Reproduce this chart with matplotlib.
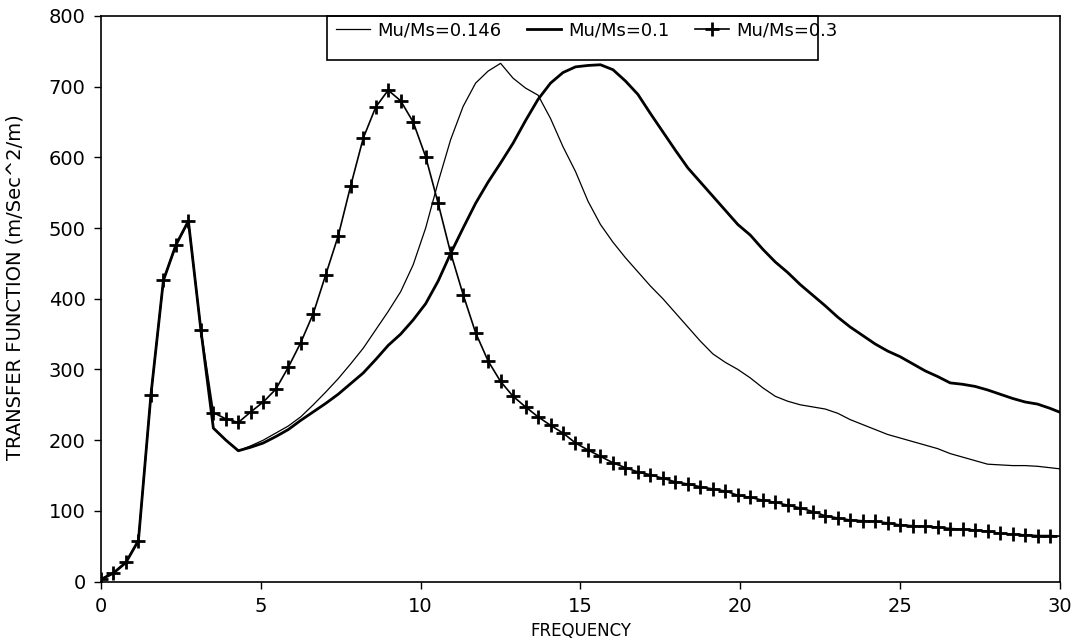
import matplotlib
matplotlib.use("Agg")
import matplotlib.pyplot as plt
from matplotlib.patches import Rectangle

# frequency grid (step 100/256 Hz)
freq = [k * 0.390625 for k in range(78)]

# Mu/Ms = 0.146 (thin line)
tf_0146 = [3, 12, 27, 58, 264, 426, 476, 510, 356, 217,
           200, 185, 192, 200, 210, 220, 233, 250, 268, 287,
           308, 330, 356, 382, 410, 448, 500, 565, 625, 672,
           705, 722, 733, 712, 698, 688, 655, 615, 580, 538,
           505, 480, 458, 438, 418, 400, 380, 360, 340, 322,
           310, 300, 288, 274, 262, 255, 250, 247, 244, 238,
           229, 222, 215, 208, 203, 198, 193, 188, 181, 176,
           171, 166, 165, 164, 164, 163, 161, 159]

# Mu/Ms = 0.1 (thick line)
tf_01 = [3, 12, 27, 58, 264, 426, 476, 510, 356, 217,
         200, 185, 190, 196, 205, 215, 228, 240, 252, 265,
         280, 295, 314, 334, 350, 370, 393, 425, 464, 500,
         535, 565, 592, 620, 652, 682, 705, 720, 728, 730,
         731, 724, 708, 689, 662, 636, 610, 585, 565, 545,
         525, 505, 490, 470, 452, 437, 420, 405, 390, 374,
         360, 348, 336, 326, 318, 308, 298, 290, 281, 279,
         276, 271, 265, 259, 254, 251, 245, 238]

# Mu/Ms = 0.3 (line with + markers)
tf_03 = [3, 12, 27, 58, 264, 426, 476, 510, 356, 239,
         230, 225, 240, 254, 272, 303, 338, 379, 434, 489,
         560, 627, 671, 695, 680, 650, 601, 535, 465, 406,
         352, 312, 283, 262, 247, 233, 221, 210, 196, 186,
         177, 168, 161, 155, 151, 146, 141, 138, 134, 131,
         128, 122, 119, 115, 112, 108, 104, 99, 93, 90,
         87, 86, 85, 83, 80, 79, 78, 77, 75, 74,
         73, 71, 68, 67, 66, 65, 65, 64]

xticks = [0, 5, 10, 15, 20, 25, 30]
yticks = [0, 100, 200, 300, 400, 500, 600, 700, 800]

fig = plt.figure(figsize=(10.73, 6.44), dpi=100)
ax = fig.add_axes([0.0941, 0.097, 0.8938, 0.8782])

l1, = ax.plot(freq, tf_0146, color='black', lw=0.9)
l2, = ax.plot(freq, tf_01, color='black', lw=2.0)
l3, = ax.plot(freq, tf_03, color='black', lw=1.2, marker='+',
              markersize=10, markeredgewidth=2.0, markevery=range(77))

ax.set_xlim(0, 30)
ax.set_ylim(0, 800)
ax.set_xticks(xticks)
ax.set_yticks(yticks)
ax.tick_params(axis='both', direction='out', length=5, width=1, labelsize=14)
ax.tick_params(axis='x', pad=6)
ax.tick_params(axis='y', pad=6)
for s in ax.spines.values():
    s.set_linewidth(1.2)

ax.set_xlabel('FREQUENCY', fontsize=12)
ax.xaxis.set_label_coords(0.5, -0.072)
ax.set_ylabel('TRANSFER FUNCTION (m/Sec^2/m)', fontsize=14)
ax.yaxis.set_label_coords(-0.08, 0.52)

# legend box hanging from the top spine
ax.add_patch(Rectangle((0.2357, 0.9225), 0.512, 0.0775, transform=ax.transAxes,
                       fill=False, edgecolor='black', lw=1.2, clip_on=False))
ax.legend([l1, l2, l3], ['Mu/Ms=0.146', 'Mu/Ms=0.1', 'Mu/Ms=0.3'],
          loc='upper left', bbox_to_anchor=(0.2375, 1.003), ncol=3,
          frameon=False, fontsize=13, handlelength=1.9, handletextpad=0.4,
          columnspacing=1.4, borderaxespad=0)

fig.savefig('out.png', dpi=100)
